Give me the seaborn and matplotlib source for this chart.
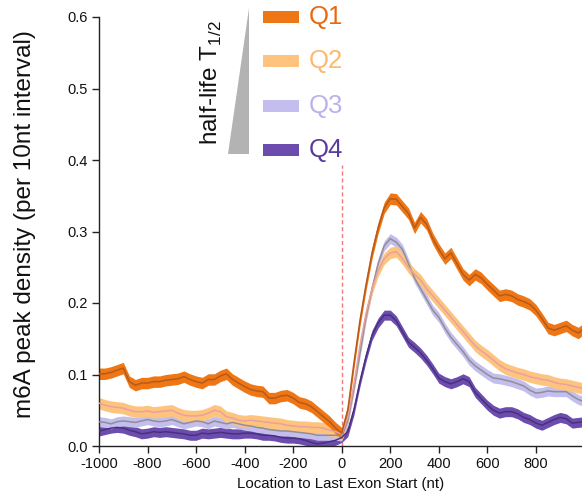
import numpy as np
import pandas as pd
import seaborn as sns
import matplotlib.pyplot as plt
from matplotlib.patches import Polygon, Rectangle

# Position relative to the last exon start (nt), 25-nt steps
positions = list(range(-1000, 1001, 25))

q1 = [0.101, 0.101, 0.103, 0.106, 0.109, 0.090, 0.085, 0.088, 0.088, 0.090,
      0.090, 0.092, 0.093, 0.094, 0.097, 0.093, 0.090, 0.088, 0.093, 0.093,
      0.098, 0.101, 0.093, 0.088, 0.083, 0.079, 0.077, 0.076, 0.067, 0.067,
      0.070, 0.071, 0.067, 0.061, 0.059, 0.055, 0.048, 0.041, 0.034, 0.025,
      0.018,
      0.050, 0.115, 0.175, 0.225, 0.270, 0.305, 0.333, 0.346, 0.345, 0.335,
      0.325, 0.305, 0.320, 0.310, 0.290, 0.275, 0.262, 0.270, 0.255, 0.240,
      0.232, 0.240, 0.235, 0.226, 0.218, 0.210, 0.212, 0.210, 0.205, 0.202,
      0.198, 0.190, 0.178, 0.165, 0.162, 0.165, 0.168, 0.162, 0.158, 0.165]

q2 = [0.060, 0.057, 0.055, 0.054, 0.053, 0.050, 0.048, 0.048, 0.049, 0.047,
      0.048, 0.049, 0.050, 0.046, 0.043, 0.042, 0.042, 0.043, 0.046, 0.050,
      0.048, 0.041, 0.039, 0.036, 0.035, 0.036, 0.035, 0.034, 0.033, 0.032,
      0.031, 0.029, 0.028, 0.027, 0.027, 0.026, 0.026, 0.025, 0.022, 0.020,
      0.017,
      0.040, 0.085, 0.140, 0.185, 0.220, 0.245, 0.262, 0.270, 0.272, 0.262,
      0.250, 0.240, 0.232, 0.220, 0.210, 0.200, 0.190, 0.180, 0.170, 0.160,
      0.150, 0.140, 0.133, 0.127, 0.120, 0.113, 0.108, 0.105, 0.102, 0.100,
      0.097, 0.095, 0.093, 0.092, 0.089, 0.087, 0.086, 0.084, 0.082, 0.080]

q3 = [0.034, 0.033, 0.031, 0.034, 0.035, 0.034, 0.033, 0.035, 0.037, 0.035,
      0.034, 0.035, 0.037, 0.034, 0.031, 0.033, 0.035, 0.034, 0.031, 0.035,
      0.033, 0.031, 0.033, 0.031, 0.029, 0.028, 0.026, 0.025, 0.023, 0.022,
      0.021, 0.021, 0.020, 0.019, 0.018, 0.017, 0.015, 0.015, 0.015, 0.015,
      0.014,
      0.035, 0.080, 0.130, 0.180, 0.220, 0.255, 0.280, 0.290, 0.285, 0.275,
      0.255, 0.235, 0.220, 0.205, 0.190, 0.180, 0.165, 0.152, 0.142, 0.132,
      0.120, 0.112, 0.106, 0.100, 0.095, 0.094, 0.092, 0.090, 0.087, 0.084,
      0.078, 0.074, 0.075, 0.077, 0.076, 0.076, 0.076, 0.070, 0.065, 0.062]

q4 = [0.021, 0.023, 0.025, 0.026, 0.025, 0.022, 0.020, 0.017, 0.018, 0.020,
      0.019, 0.020, 0.019, 0.018, 0.017, 0.015, 0.015, 0.018, 0.017, 0.018,
      0.019, 0.018, 0.017, 0.017, 0.018, 0.018, 0.017, 0.015, 0.015, 0.014,
      0.012, 0.011, 0.011, 0.010, 0.008, 0.005, 0.003, 0.004, 0.006, 0.008,
      0.012,
      0.020, 0.050, 0.090, 0.125, 0.155, 0.172, 0.183, 0.183, 0.175, 0.160,
      0.145, 0.138, 0.130, 0.120, 0.108, 0.095, 0.090, 0.087, 0.090, 0.094,
      0.090, 0.075, 0.066, 0.057, 0.050, 0.046, 0.048, 0.048, 0.045, 0.040,
      0.037, 0.032, 0.029, 0.033, 0.037, 0.040, 0.038, 0.032, 0.033, 0.034]

# Half-width of the confidence band for each quartile
band_halfwidth = [0.008, 0.008, 0.007, 0.007]

quartiles = ["Q1", "Q2", "Q3", "Q4"]
band_colors = ["#EE7614", "#FEC47E", "#C3BEEE", "#6C4DAE"]
line_colors = ["#B65A1C", "#E7A0A4", "#8F8F95", "#48307F"]
label_colors = ["#E8680E", "#FDB96E", "#B9B3EA", "#5A3A9C"]

x_ticks = [-1000, -800, -600, -400, -200, 0, 200, 400, 600, 800]
y_ticks = [0.0, 0.1, 0.2, 0.3, 0.4, 0.5, 0.6]

series = [q1, q2, q3, q4]
df = pd.DataFrame({
    "position": positions * 4,
    "density": q1 + q2 + q3 + q4,
    "quartile": [q for q in quartiles for _ in positions],
})

sns.set_style("ticks")
plt.rcParams["font.family"] = ["Liberation Sans", "DejaVu Sans"]
plt.rcParams["mathtext.fontset"] = "custom"
plt.rcParams["mathtext.rm"] = "Liberation Sans"

W, H = 582, 499
fig = plt.figure(figsize=(W / 100, H / 100), dpi=100)
ax = fig.add_axes([99 / W, (H - 446) / H, (W - 99) / W, (446 - 17) / H])


def fx(px):
    return px / W


def fy(py):
    return (H - py) / H


# reference line at the exon start
ax.plot([0, 0], [0, 0.393], color="#F27A7A", lw=1.0, ls=(0, (3, 2)), zorder=1)

# confidence bands (bottom quartile drawn first)
for vals, hw, bc in reversed(list(zip(series, band_halfwidth, band_colors))):
    v = np.array(vals)
    ax.fill_between(positions, v - hw, v + hw, color=bc, lw=0, zorder=2)

sns.lineplot(data=df, x="position", y="density", hue="quartile",
             hue_order=quartiles[::-1], palette=line_colors[::-1],
             linewidth=1.1, legend=False, ax=ax, zorder=3)

ax.set_xlim(-1000, 990)
ax.set_ylim(0, 0.6)
ax.set_xticks(x_ticks)
ax.set_xticklabels([str(t) for t in x_ticks])
ax.set_yticks(y_ticks)
ax.set_yticklabels([f"{t:.1f}" for t in y_ticks])
ax.tick_params(axis="both", labelsize=10.5, length=5, width=1, color="#222222",
               direction="out", pad=3, labelcolor="#111111")
for s in ["top", "right"]:
    ax.spines[s].set_visible(False)
for s in ["left", "bottom"]:
    ax.spines[s].set_color("#222222")
    ax.spines[s].set_linewidth(1.0)

ax.set_ylabel("")
ax.set_xlabel("Location to Last Exon Start (nt)", fontsize=10.8,
              color="#111111", labelpad=4)
fig.text(fx(25), fy(224), "m6A peak density (per 10nt interval)",
         rotation=90, ha="center", va="center", fontsize=17.5,
         color="#111111")

# custom legend: triangle, label and quartile swatches
tri = Polygon([[fx(228), fy(154)], [fx(249), fy(154)], [fx(249), fy(8)]],
              closed=True, transform=fig.transFigure, facecolor="#B3B3B3",
              edgecolor="none")
fig.patches.append(tri)
fig.text(fx(211), fy(83), r"half-life T$_{\mathregular{1/2}}$", rotation=90,
         ha="center", va="center", fontsize=17.5, color="#111111")

swatch_y = [17, 61, 106, 150]
for q, yy, bc, lc in zip(quartiles, swatch_y, band_colors, label_colors):
    fig.patches.append(Rectangle((fx(263), fy(yy + 6)), fx(36), 12 / H,
                                 transform=fig.transFigure, facecolor=bc,
                                 edgecolor="none"))
    fig.text(fx(309), fy(yy), q, ha="left", va="center", fontsize=18.5,
             color=lc)

fig.savefig("out.png", dpi=100)
